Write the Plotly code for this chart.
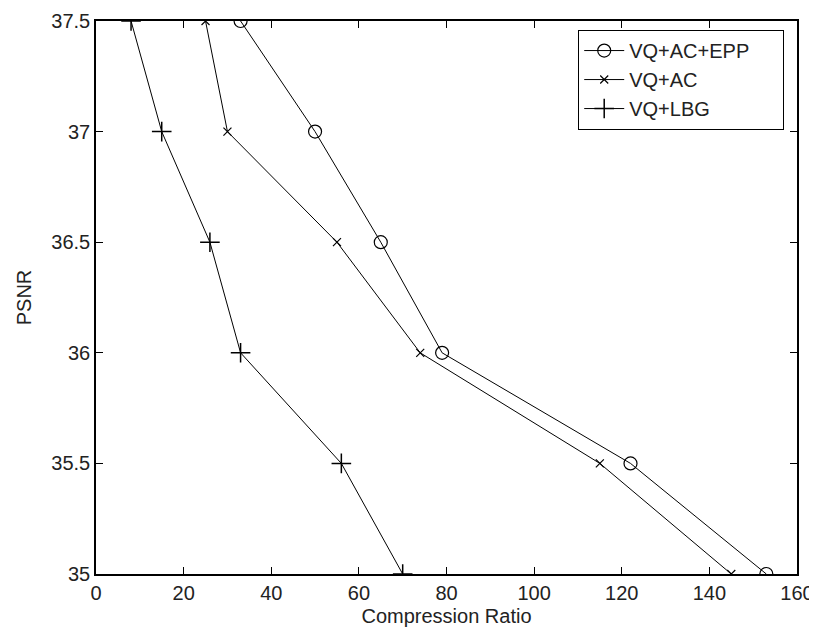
import plotly.graph_objects as go

psnr = [37.5, 37.0, 36.5, 36.0, 35.5, 35.0]
cr_vq_ac_epp = [33, 50, 65, 79, 122, 153]
cr_vq_ac = [25, 30, 55, 74, 115, 145]
cr_vq_lbg = [8, 15, 26, 33, 56, 70]

x_ticks = [0, 20, 40, 60, 80, 100, 120, 140, 160]
y_ticks = [35, 35.5, 36, 36.5, 37, 37.5]
y_tick_labels = ["35", "35.5", "36", "36.5", "37", "37.5"]

FONT = "Liberation Sans, Arial, sans-serif"
TXT = "#222"

fig = go.Figure()
fig.add_trace(go.Scatter(
    x=cr_vq_ac_epp, y=psnr, name="VQ+AC+EPP" + "\u00a0" * 5, mode="lines+markers",
    line=dict(color="black", width=1),
    marker=dict(symbol="circle-open", size=13, color="black", line=dict(width=1.2, color="black")),
))
fig.add_trace(go.Scatter(
    x=cr_vq_ac, y=psnr, name="VQ+AC", mode="lines+markers",
    line=dict(color="black", width=1),
    marker=dict(symbol="x-thin-open", size=8, color="black", line=dict(width=1.2, color="black")),
))
fig.add_trace(go.Scatter(
    x=cr_vq_lbg, y=psnr, name="VQ+LBG", mode="lines+markers",
    line=dict(color="black", width=1),
    marker=dict(symbol="cross-thin-open", size=14, color="black", line=dict(width=1.5, color="black")),
))

axis_common = dict(
    showgrid=False, zeroline=False, showline=True, linecolor="black", linewidth=1.5,
    mirror="ticks", ticks="inside", ticklen=7, tickwidth=1.2, tickcolor="black",
    tickfont=dict(family=FONT, size=20, color=TXT), automargin=False,
)

# page body has an 8px default margin; compensate so the plot area lands at 96..797 x 21..574
fig.update_layout(
    width=809, height=627,
    margin=dict(l=88, r=20, t=13, b=61),
    paper_bgcolor="white", plot_bgcolor="white",
    font=dict(family=FONT, size=20, color=TXT),
    xaxis=dict(range=[0, 160], tickvals=x_ticks, **axis_common,
               title=dict(text="Compression Ratio", font=dict(family=FONT, size=20, color=TXT), standoff=6)),
    yaxis=dict(range=[35, 37.5], tickvals=y_ticks, ticktext=y_tick_labels, **axis_common,
               title=dict(text="PSNR", font=dict(family=FONT, size=20, color=TXT), standoff=14)),
    legend=dict(x=0.6876, y=0.984, xanchor="left", yanchor="top",
                bordercolor="black", borderwidth=1.2, bgcolor="white",
                font=dict(family=FONT, size=20, color=TXT),
                itemwidth=40, tracegroupgap=0),
    showlegend=True,
)

fig.write_html("out.html")
